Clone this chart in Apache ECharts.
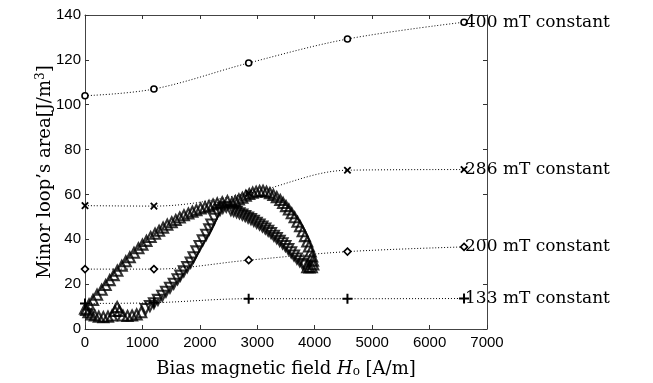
<!DOCTYPE html>
<html>
<head>
<meta charset="utf-8">
<script src="https://cdn.jsdelivr.net/npm/echarts@6/dist/echarts.min.js"></script>
<style>
  html, body { margin: 0; padding: 0; background: #fff; }
  #chart { width: 653px; height: 383px; }
</style>
</head>
<body>
<div id="chart"></div>
<script>
// bias field where the constant-induction curves were measured [A/m]
const hField = [0, 1200, 2850, 4570, 6600];
const area400 = [104, 107, 118.6, 129.3, 136.8];
const area286 = [55, 54.8, 60.5, 70.8, 71.1];
const area200 = [26.7, 26.7, 30.7, 34.5, 36.6];
const area133 = [11.4, 11.7, 13.5, 13.5, 13.6];
const constNames = ['400 mT constant', '286 mT constant', '200 mT constant', '133 mT constant'];

const loopRise = [
  [0, 9], [70, 11], [140, 13], [210, 15.3], [290, 17.5], [360, 19.6], [430, 21.8], [500, 24],
  [563, 26], [640, 28.2], [710, 30.2], [780, 32], [853, 34], [930, 36], [1000, 37.6], [1070, 39.3],
  [1143, 41], [1220, 42.5], [1290, 43.8], [1360, 45.2], [1433, 46.5], [1510, 47.6], [1580, 48.6],
  [1650, 49.7], [1723, 50.7], [1800, 51.5], [1870, 52.3], [1940, 53], [2013, 53.7], [2090, 54.3],
  [2160, 54.9], [2230, 55.5], [2303, 56], [2390, 56.5], [2480, 57]
];
const loopTop = [
  [2560, 56.3], [2620, 57], [2680, 57.8], [2740, 58.5], [2800, 59.4], [2860, 60.2], [2920, 60.8],
  [2980, 61.2], [3040, 61.5], [3100, 61.6], [3160, 61.2], [3220, 60.6], [3280, 59.8], [3340, 58.8],
  [3400, 57.5], [3450, 56.2], [3500, 54.8], [3550, 53.3], [3600, 51.6], [3650, 49.8], [3700, 47.8],
  [3745, 45.8], [3790, 43.6], [3830, 41.4], [3870, 39], [3900, 36.8], [3930, 34.6], [3955, 32.4],
  [3970, 30.5], [3975, 28.8], [3950, 27.6], [3910, 27.4], [3870, 27.6]
];
const loopReturn = [
  [3830, 28.3], [3790, 29], [3740, 30.2], [3690, 31.4], [3640, 32.8], [3590, 34.2], [3540, 35.6],
  [3490, 37], [3440, 38.2], [3390, 39.3], [3340, 40.5], [3290, 41.6], [3240, 42.8], [3190, 43.8],
  [3140, 44.8], [3090, 45.7], [3040, 46.6], [2990, 47.4], [2940, 48.2], [2890, 49], [2840, 49.7],
  [2790, 50.4], [2740, 51], [2690, 51.6], [2640, 52.1], [2590, 52.6], [2540, 53]
];
const loopFall = [
  [2460, 54.5], [2400, 54], [2350, 53], [2303, 51.9], [2250, 49.2], [2200, 46.6], [2163, 44.4],
  [2110, 42], [2050, 39.5], [1995, 37], [1940, 34.6], [1890, 32], [1839, 29.6], [1780, 27.6],
  [1720, 25.7], [1660, 23.8], [1612, 22.2], [1545, 20.2], [1480, 18.4], [1410, 16.6], [1346, 14.8],
  [1270, 13], [1200, 11.5], [1130, 10.2], [1056, 8.9]
];
const loopBottom = [
  [980, 7.5], [900, 6.5], [820, 6], [740, 5.8], [660, 6], [600, 8], [560, 9.8], [520, 8], [470, 6],
  [400, 5.5], [320, 5.3], [240, 5.5], [170, 6], [110, 6.5], [60, 7.5], [20, 8.5]
];

const serif = 'DejaVu Serif';
const sans = 'Liberation Sans';
const plusPath = 'path://M4,0H6V4H10V6H6V10H4V6H0V4H4Z';

const chart = echarts.init(document.getElementById('chart'));

function constSeries(vals, name, symbol, size, filled, rotate) {
  return {
    type: 'line',
    name,
    data: hField.map((x, i) => [x, vals[i]]),
    smooth: 0.35,
    symbol,
    symbolSize: size,
    symbolRotate: rotate || 0,
    showAllSymbol: true,
    z: 2,
    itemStyle: { color: filled ? '#000' : '#fff', borderColor: '#000', borderWidth: filled ? 0 : 1.6 },
    lineStyle: { color: '#000', width: 1, type: [1, 2] },
    endLabel: {
      show: true,
      formatter: name,
      fontFamily: serif,
      fontSize: 17,
      color: '#000',
      distance: 1
    },
    emphasis: { disabled: true },
    animation: false
  };
}

function loopSeries(pts, rotate) {
  return {
    type: 'scatter',
    data: pts,
    symbol: 'triangle',
    symbolSize: 10,
    symbolRotate: rotate,
    z: 5,
    itemStyle: { color: 'rgba(0,0,0,0)', borderColor: '#000', borderWidth: 2.1 },
    emphasis: { disabled: true },
    animation: false
  };
}

function valueAxis(pos, min, max, step, withLabels) {
  return {
    type: 'value', min, max, interval: step, position: pos,
    axisLine: { onZero: false, lineStyle: { color: '#444', width: 1 } },
    axisTick: { show: true, inside: true, length: 4, lineStyle: { color: '#333' } },
    splitLine: { show: false },
    axisLabel: {
      show: withLabels,
      fontFamily: sans, fontSize: 15, color: '#000',
      margin: pos === 'bottom' ? 6 : 4,
      formatter: v => String(v)
    }
  };
}

const xBottom = valueAxis('bottom', 0, 7000, 1000, true);
xBottom.name = '{a|Bias magnetic field }{i|H}{s|o}{a| [A/m]}';
xBottom.nameLocation = 'middle';
xBottom.nameGap = 31;
xBottom.nameTextStyle = {
  rich: {
    a: { fontFamily: serif, fontSize: 18, color: '#000' },
    i: { fontFamily: serif, fontSize: 18, fontStyle: 'italic', color: '#000' },
    s: { fontFamily: serif, fontSize: 12, color: '#000', padding: [6, 0, 0, 0] }
  }
};

const yLeft = valueAxis('left', 0, 140, 20, true);
yLeft.name = '{a|Minor loop\u2019s area[J/m}{s|3}{a|]}';
yLeft.nameLocation = 'middle';
yLeft.nameGap = 30;
yLeft.nameMoveOverlap = false;
yLeft.nameTextStyle = {
  rich: {
    a: { fontFamily: serif, fontSize: 18, color: '#000' },
    s: { fontFamily: serif, fontSize: 12, color: '#000', padding: [0, 0, 8, 0] }
  }
};

chart.setOption({
  animation: false,
  grid: { left: 85, right: 166, top: 15, bottom: 53 },
  xAxis: [xBottom, valueAxis('top', 0, 7000, 1000, false)],
  yAxis: [yLeft, valueAxis('right', 0, 140, 20, false)],
  series: [
    constSeries(area400, constNames[0], 'circle', 6, false),
    constSeries(area286, constNames[1], plusPath, 9, true, 45),
    constSeries(area200, constNames[2], 'diamond', 7, false),
    constSeries(area133, constNames[3], plusPath, 10, true),
    loopSeries(loopRise, 0),
    loopSeries(loopTop, 0),
    loopSeries(loopReturn, 180),
    loopSeries(loopFall, 180),
    loopSeries(loopBottom, 0)
  ]
});
</script>
</body>
</html>
